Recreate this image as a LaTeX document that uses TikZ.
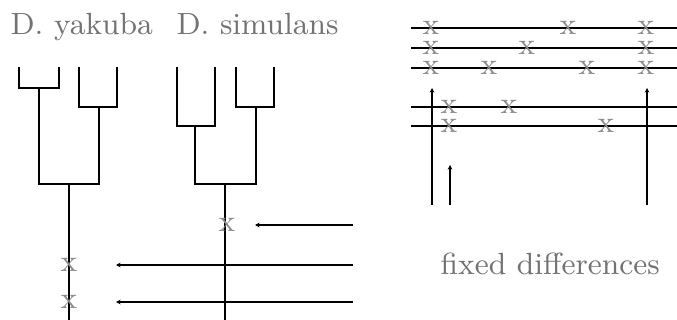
\documentclass[tikz,border=0pt]{standalone}
\usepackage{tikz}
\usetikzlibrary{arrows.meta}
\definecolor{labelgrey}{gray}{0.45}
\definecolor{markgrey}{gray}{0.55}
\tikzset{
  branch/.style={line width=0.6pt, draw=black, line cap=rect},
  seq/.style={line width=0.6pt, draw=black},
  mut/.style={text=markgrey, inner sep=0pt, font=\fontsize{9.2}{11}\selectfont},
  species/.style={text=labelgrey, inner sep=0pt, anchor=base west, font=\fontsize{9.2}{11}\selectfont},
  flow/.style={-{Stealth[length=1.4pt, width=1.4pt]}, line width=0.6pt},
}
\begin{document}
\begin{tikzpicture}[x=0.3pt, y=-0.3pt]
\useasboundingbox (0,0) rectangle (677,320);

% species labels
\node[species] (yak) at (10,35) {D. yakuba};
\node[species] (sim) at (176,35) {D. simulans};
\node[species] (fixed) at (440,274) {fixed differences};

% D. yakuba tree
\draw[branch] (19,68) -- (19,88) -- (59,88) -- (59,68);
\draw[branch] (79,68) -- (79,107) -- (117,107) -- (117,68);
\draw[branch] (39,88) -- (39,184) -- (99,184) -- (99,107);
\draw[branch] (69,184) -- (69,320);

% D. simulans tree
\draw[branch] (177,68) -- (177,126) -- (215,126) -- (215,68);
\draw[branch] (236,68) -- (236,107) -- (274,107) -- (274,68);
\draw[branch] (195,126) -- (195,184) -- (256,184) -- (256,107);
\draw[branch] (225,184) -- (225,320);

% mutations on the branches
\node[mut] (sx) at (227,225) {x};
\node[mut] (yx1) at (69,265) {x};
\node[mut] (yx2) at (69,302) {x};

% arrows pointing at the mutations
\coordinate (a1s) at (353,225); \coordinate (a1e) at (255,225);
\coordinate (a2s) at (353,265); \coordinate (a2e) at (116,265);
\coordinate (a3s) at (353,302); \coordinate (a3e) at (116,302);
\draw[flow] (a1s) -- (a1e);
\draw[flow] (a2s) -- (a2e);
\draw[flow] (a3s) -- (a3e);

% sequences
\foreach \y in {28,48,68,107,126}
  \draw[seq] (411,\y) -- (677,\y);

\foreach \x/\y [count=\i] in {431/28,568/28,646/28,
                              431/48,527/48,646/48,
                              431/68,489/68,587/68,646/68,
                              449/107,509/107,
                              449/126,606/126}
  \node[mut] (m\i) at (\x,\y) {x};

% fixed differences arrows
\coordinate (v1s) at (432,205); \coordinate (v1e) at (432,88);
\coordinate (v2s) at (450,205); \coordinate (v2e) at (450,165);
\coordinate (v3s) at (647,205); \coordinate (v3e) at (647,88);
\draw[flow] (v1s) -- (v1e);
\draw[flow] (v2s) -- (v2e);
\draw[flow] (v3s) -- (v3e);
\end{tikzpicture}
\end{document}
